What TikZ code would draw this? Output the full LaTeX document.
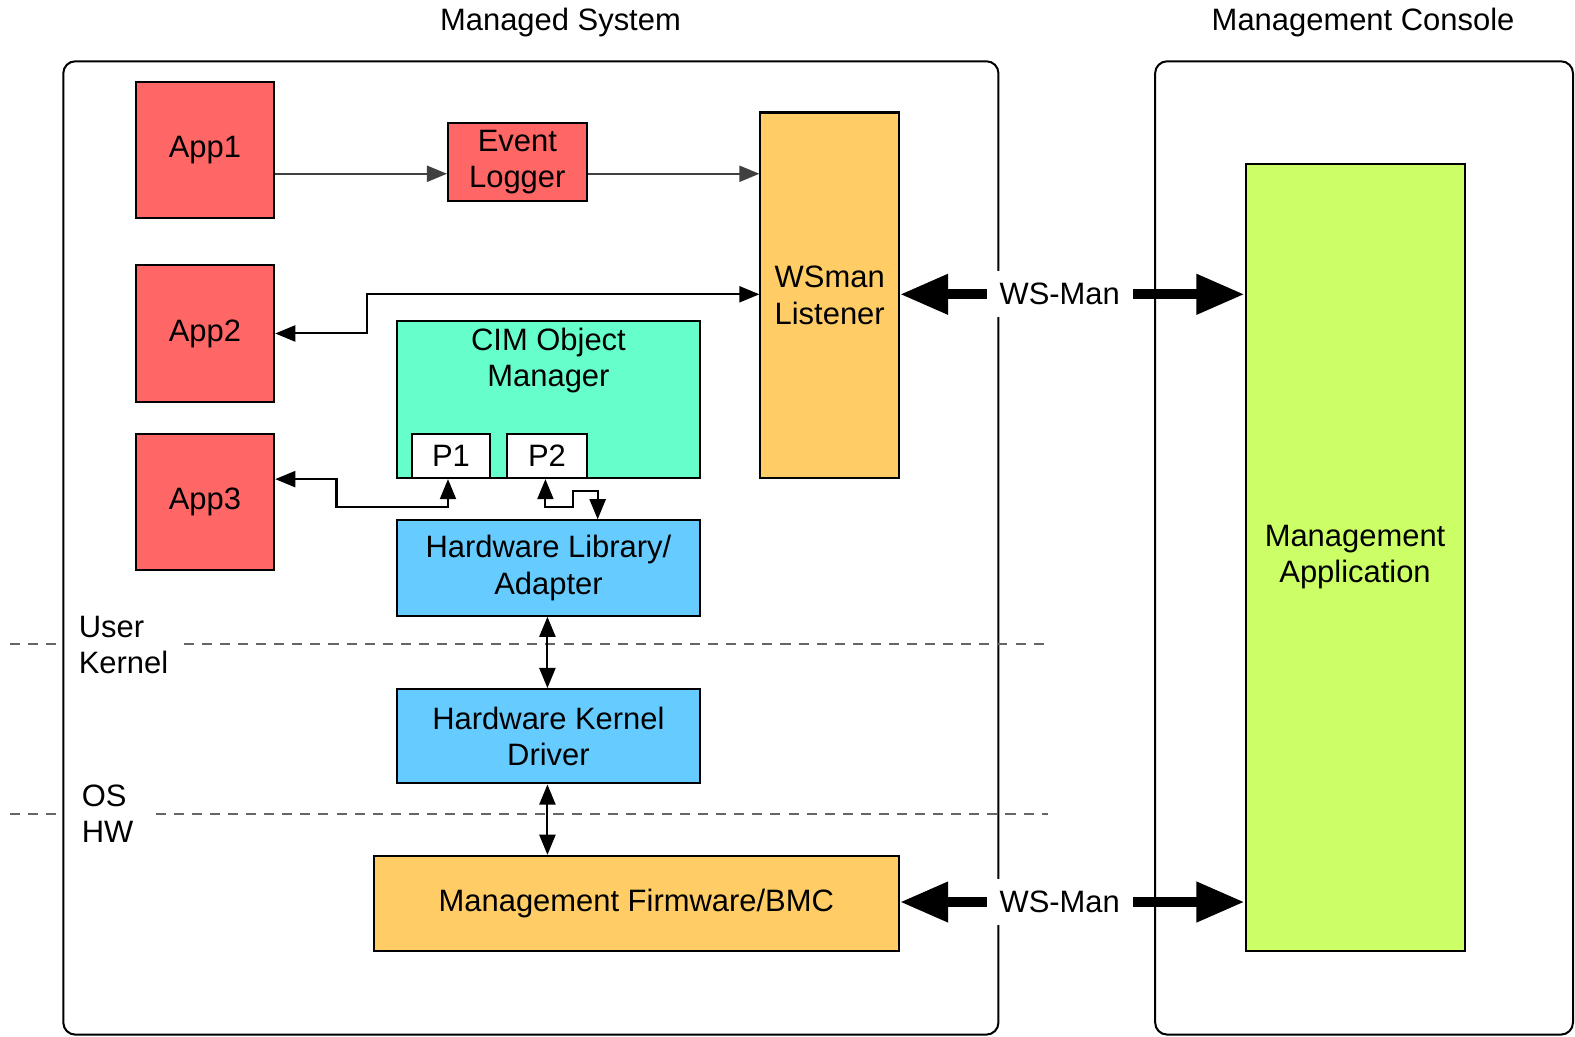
\documentclass[tikz,border=0pt]{standalone}
\usepackage{fontspec}
\setmainfont{Liberation Sans}
\usetikzlibrary{arrows.meta,calc}
\definecolor{appred}{HTML}{FF6666}
\definecolor{wsorange}{HTML}{FFCC66}
\definecolor{cimgreen}{HTML}{66FFCC}
\definecolor{hwblue}{HTML}{66CCFF}
\definecolor{mgmtgreen}{HTML}{CCFF66}
\begin{document}
\begin{tikzpicture}[x=0.5pt,y=-0.5pt,
  every node/.style={font=\fontsize{15.4}{18}\selectfont},
  box/.style={draw=black, line width=1pt, inner sep=0pt, align=center},
  frame/.style={draw=black, line width=1pt, rounded corners=6pt},
  sep line/.style={draw=black!60, line width=1pt, dash pattern=on 5pt off 4pt},
  thinarr/.style={line width=1pt, -{Triangle[length=10pt,width=8pt]}},
  thinboth/.style={line width=1pt, {Triangle[length=10pt,width=8pt]}-{Triangle[length=10pt,width=8pt]}},
  thickboth/.style={line width=5pt, {Triangle[length=24pt,width=19pt]}-{Triangle[length=24pt,width=19pt]}},
  wslabel/.style={fill=white, inner xsep=6.5pt, inner ysep=6pt}
]
\useasboundingbox (0,0) rectangle (1568,1032);
% titles
\node (t1) at (558,22) {Managed System};
\node (t2) at (1357,22) {Management Console};
% frames
\draw[frame] (63,61) rectangle (994,1030);
\draw[frame] (1150,61) rectangle (1566,1030);
% separator lines
\draw[sep line] (10,641) -- (63,641);
\draw[sep line] (183,641) -- (1043,641);
\draw[sep line] (10,810) -- (63,810);
\draw[sep line] (155,810) -- (1043,810);
\node[anchor=west, align=left, inner sep=0pt] (uk) at (78,642) {User\\Kernel};
\node[anchor=west, align=left, inner sep=0pt] (oh) at (81,810) {OS\\HW};
% boxes
\node[box, fill=appred, minimum width=69pt, minimum height=67.5pt] (app1) at (204,149.5) {App1};
\node[box, fill=appred, minimum width=69pt, minimum height=68pt] (app2) at (204,332) {App2};
\node[box, fill=appred, minimum width=69pt, minimum height=67.5pt] (app3) at (204,499.5) {App3};
\node[box, fill=appred, minimum width=69pt, minimum height=39pt] (evlog) at (515,161) {Event\\Logger};
\node[box, fill=wsorange, minimum width=69pt, minimum height=182pt] (wsman) at (826,294) {WSman\\Listener};
\node[box, fill=cimgreen, minimum width=151pt, minimum height=78pt] (cim) at (546,398) {};
\node[align=center, anchor=north, inner sep=0pt] (cimlabel) at (546,326) {CIM Object\\Manager};
\node[box, fill=white, minimum width=39pt, minimum height=22pt] (p1) at (449,454) {P1};
\node[box, fill=white, minimum width=39.5pt, minimum height=22pt] (p2) at (544.5,454) {P2};
\node[box, fill=hwblue, minimum width=151pt, minimum height=47.5pt] (hwlib) at (546,565.5) {Hardware Library/\\Adapter};
\node[box, fill=hwblue, minimum width=151pt, minimum height=47pt] (hwkd) at (546,733) {Hardware Kernel\\Driver};
\node[box, fill=wsorange, minimum width=261.5pt, minimum height=47.5pt] (fw) at (633.5,899.5) {Management Firmware/BMC};
\node[box, fill=mgmtgreen, minimum width=109pt, minimum height=392pt] (mgmt) at (1349,555) {Management\\Application};
% connectors
\coordinate (row1) at (0,173);
\draw[thinarr, black!75] (app1.east |- row1) -- (evlog.west |- row1);
\draw[thinarr, black!75] (evlog.east |- row1) -- (wsman.west |- row1);
\draw[thinboth] (app2.east) -- (365,332) -- (365,293) -- (wsman.west |- 0,293);
\draw[thinboth] (app3.east |- 0,477) -- (335,477) -- (335,505) -- (446,505) -- (p1.south -| 446,0);
\draw[thinboth] (p2.south -| 543,0) -- (543,505) -- (570,505) -- (570,489) -- (595,489) -- (hwlib.north -| 595,0);
\draw[thinboth] (hwlib.south -| 545,0) -- (hwkd.north -| 545,0);
\draw[thinboth] (hwkd.south -| 545,0) -- (fw.north -| 545,0);
\draw[thickboth] (wsman.east |- 0,293) -- (mgmt.west |- 0,293);
\node[wslabel] (ws1) at (1055,293) {WS-Man};
\draw[thickboth] (fw.east |- 0,898) -- (mgmt.west |- 0,898);
\node[wslabel] (ws2) at (1055,898) {WS-Man};
\end{tikzpicture}
\end{document}
